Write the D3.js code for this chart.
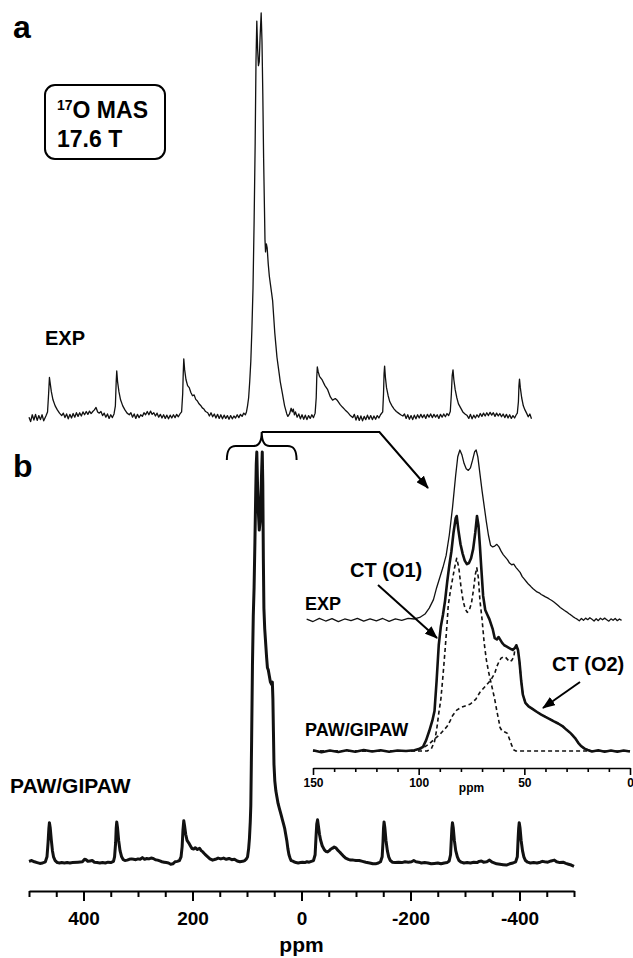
<!DOCTYPE html>
<html>
<head>
<meta charset="utf-8">
<script src="https://cdn.jsdelivr.net/npm/d3@7"></script>
<style>
  body { margin: 0; background: #fff; }
  svg { display: block; font-family: 'Liberation Sans', Arial, sans-serif; font-weight: bold; }
</style>
</head>
<body>
<div id="chart"></div>
<script>
"use strict";

const mainTicks = [400, 200, 0, -200, -400];
const insetTicks = [150, 100, 50, 0];

// [ppm, intensity in % of the tallest point of the trace]
const expMain = [
  [500, 0.2], [497, -0.9], [494, 0.8], [491, -0.5], [488, 0.9], [485, -0.6], [482, 0.6], [479, -0.4], [476, 0.8], [473, -0.7], [469, 0.5],
  [466, 1.5], [464, 6], [462.5, 10], [461, 8.5], [459, 6.5], [456, 4.5], [452, 3], [448, 2], [444, 1.2], [440, 0.6],
  [437, 1.2], [434, 0.1], [431, 1.0], [428, -0.2], [425, 0.9], [422, 0.0], [419, 1.1], [416, 0.2], [413, 1.3], [410, 0.4],
  [407, 1.3], [404, 0.5], [401, 1.5], [398, 0.8], [395, 1.6], [392, 0.9], [389, 1.7], [386, 1.1], [383, 1.6], [380, 2.0],
  [377, 2.6], [374, 1.5], [371, 1.2], [368, 1.6], [365, 0.6], [362, 1.2], [359, 0.2], [356, 1.0], [353, -0.1], [350, 0.8],
  [347, 0.1], [344, 1.0],
  [341.5, 3], [340, 9], [339, 11.6], [337.5, 9], [335, 6.5], [332, 4.5], [328, 3], [324, 2], [320, 1.2], [316, 0.8],
  [313, 1.3], [310, 0.2], [307, 1.0], [304, -0.1], [301, 0.9], [298, 0.1], [295, 0.8], [292, 0.4], [289, 1.3], [286, 0.8],
  [283, 1.6], [280, 0.8], [277, 1.7], [274, 0.9], [271, 1.3], [268, 0.5], [265, 1.2], [262, 0.2], [259, 0.9], [256, 0.0],
  [253, 0.8], [250, -0.1], [247, 0.7], [244, -0.2], [241, 0.7], [238, 0.0], [235, 0.8], [232, 0.1], [229, 0.9], [226, 0.3],
  [223, 1.0], [220, 1.5],
  [218, 6], [217, 11], [216, 14.6], [214.5, 12], [212, 9.5], [209, 8], [206, 7.5], [203, 6.3], [200, 5.5], [197, 5.7],
  [194, 4.6], [191, 4.2], [188, 3.5], [185, 3.1], [182, 2.5], [179, 2.2], [176, 1.6], [172, 1.3], [169, 0.5], [166, 1.3],
  [163, 0.3], [160, 1.0], [157, 0.0], [154, 0.9], [151, -0.1], [148, 0.8], [145, -0.2], [142, 0.7], [139, -0.1], [136, 0.6],
  [133, -0.3], [130, 0.6], [127, -0.2], [124, 0.5], [121, 0.0], [118, 0.8], [115, 0.1], [112, 0.9], [109, 0.4], [106, 1.2],
  [103, 0.8],
  [101, 1.5], [99, 3], [97, 5], [95, 9], [93, 14], [91, 22], [89, 32], [87, 48], [85, 68], [83.5, 88], [82, 98],
  [80.5, 91], [79, 87], [77.5, 88], [76, 94], [74, 100], [72.5, 93], [71, 80], [69.5, 64], [68, 52], [67, 44], [66, 41],
  [64.5, 43], [63, 42], [61, 38], [59, 35], [57, 33], [55, 31], [53, 29], [51, 25], [49, 21], [47, 18], [45, 15],
  [43, 13], [41, 11], [39, 9], [37, 7.5], [35, 6], [33, 4.5], [31, 3], [29, 2], [27, 1], [25, 0.4],
  [22, 1.0], [19, 2.4], [17, 1.5], [15, 2.2], [13, 0.8], [11, 1.5], [8, 0.2], [5, 1.0], [2, -0.2], [-1, 0.8], [-4, -0.3],
  [-7, 0.7], [-10, -0.4], [-13, 0.6], [-16, -0.1], [-19, 0.8], [-22, 0.1], [-25, 1.2],
  [-27, 5], [-28, 10], [-29, 12.6], [-30.5, 11.5], [-33, 10.3], [-38, 9.4], [-43, 8], [-48, 7], [-53, 5.2], [-57, 4.4],
  [-62, 4.8], [-66, 4.3], [-71, 3.3], [-75, 2.7], [-80, 2.0], [-84, 1.5], [-89, 0.7], [-94, 0.1],
  [-97, 0.9], [-100, -0.5], [-103, 0.6], [-106, -0.6], [-109, 0.5], [-112, -0.7], [-115, 0.4], [-118, -0.4], [-121, 0.7],
  [-124, -0.3], [-127, 0.6], [-130, -0.4], [-133, 0.5], [-136, -0.3], [-139, 0.6], [-142, 0.0], [-145, 0.8], [-149, 1.5],
  [-150.5, 6], [-151.5, 11], [-152.5, 12.8], [-154, 10], [-156, 7.5], [-159, 5.5], [-162, 4], [-166, 3], [-170, 2.2],
  [-174, 1.6], [-178, 1.2], [-182, 0.8], [-186, 0.5],
  [-189, 1.0], [-192, -0.1], [-195, 0.8], [-198, -0.3], [-201, 0.6], [-204, -0.4], [-207, 0.7], [-210, -0.2], [-213, 0.8],
  [-216, 0.0], [-219, 0.9], [-222, 0.1], [-225, 0.8], [-228, -0.1], [-231, 0.9], [-234, 0.2], [-237, 1.0], [-240, 0.1],
  [-243, 0.9], [-246, 0.2], [-249, 0.8], [-252, -0.1], [-255, 0.9], [-258, 0.2], [-261, 1.0], [-264, 0.3], [-267, 1.1],
  [-270, 0.6], [-273, 1.6],
  [-275, 6], [-276.5, 10.5], [-278, 11.9], [-279.5, 9.5], [-282, 7], [-285, 5], [-288, 3.5], [-292, 2.5], [-296, 1.5],
  [-300, 1.0], [-304, 0.6],
  [-307, -0.1], [-310, 0.9], [-313, -0.2], [-316, 0.7], [-319, 0.0], [-322, 0.8], [-325, 0.2], [-328, 1.1], [-331, 0.4],
  [-334, 1.2], [-337, 0.5], [-340, 1.3], [-343, 0.6], [-346, 1.4], [-349, 0.7], [-352, 1.3], [-355, 0.4], [-358, 1.2],
  [-361, 0.5], [-364, 1.1], [-367, 0.3], [-370, 1.0], [-373, 0.1], [-376, 0.9], [-379, 0.0], [-382, 0.8], [-385, -0.1],
  [-388, 0.6], [-391, 0.0], [-394, 0.8], [-396, 1.2],
  [-398, 4], [-399, 8], [-400, 9.6], [-401.5, 7.5], [-404, 5], [-407, 3], [-410, 2], [-413, 1.2], [-416, 0.3],
  [-419, 1.0], [-422, -0.2]
];

const pawMain = [
  [500, 0.4], [495, 0.6], [490, 0.3], [485, 0.1], [480, -0.1], [475, 0.0], [470, 0.3],
  [467, 1.5], [465, 5], [463.5, 8.5], [462.5, 9.8], [461, 8.5], [459, 5.5], [457, 3], [455, 1.5], [452, 0.6], [448, 0.1],
  [444, 0.0], [440, 0.1], [435, 0.0], [430, 0.1], [425, 0.0], [420, 0.1], [410, 0.2], [402, 0.3], [398, 0.9], [395, 0.8],
  [392, 0.4], [388, 0.5], [384, 0.6], [380, 0.2], [375, 0.1], [370, 0.0], [365, 0.1], [360, 0.0], [355, 0.2], [350, 0.1],
  [345, 0.4],
  [343, 1.5], [341, 5], [340, 8.5], [339, 10], [337.5, 8.5], [335.5, 5.5], [333, 3], [330, 1.5], [327, 0.8], [324, 0.6],
  [320, 0.7], [316, 0.9], [312, 1.0], [308, 0.9], [304, 0.8], [300, 1.0], [296, 0.9], [292, 1.3], [288, 0.9], [284, 1.1],
  [280, 1.0], [276, 1.2], [272, 1.1], [268, 0.8], [264, 0.7], [260, 0.5], [256, 0.3], [252, 0.2], [248, 0.1], [244, 0.0],
  [240, -0.3], [236, -0.2], [232, 0.3], [228, 0.4], [224, 0.6], [221, 1.5],
  [219, 4], [217.5, 8], [216, 10.3], [214.5, 9], [212.5, 7], [210, 5.5], [207, 4.9], [204, 4.2], [201, 3.5], [198, 3.4],
  [195, 3.7], [191, 3.3], [187, 3.6], [184, 3.0], [181, 2.7], [177, 2.1], [172, 1.5], [168, 1.0], [163, 0.7], [158, 0.9],
  [153, 1.2], [148, 1.0], [143, 1.2], [138, 0.9], [133, 1.1], [128, 0.8], [123, 0.9], [118, 0.5], [113, 0.3], [108, 0.4],
  [104, 0.6], [101, 1.0],
  [99, 1.5], [97, 3.5], [95.5, 6], [94, 10], [93, 14], [91.5, 30], [90, 48], [88.5, 60], [87, 67], [85.5, 78], [84, 90],
  [83, 97], [82, 100], [80.5, 91], [79, 85], [77.5, 81], [76, 83], [74.5, 89], [73, 96], [72, 100], [71, 92], [70, 74],
  [69, 62], [67.5, 57], [66, 54], [64, 50], [62.5, 47.5], [61, 47], [59, 45.5], [57, 44], [55, 43.5], [53.5, 44],
  [52.5, 40], [51.5, 32], [50.5, 24], [49, 20], [47, 17.5], [45, 16], [43, 14.5], [41, 13.5], [39, 12.5], [37, 11.5],
  [35, 10.5], [33, 9.5], [31, 8.5], [29, 7], [27, 5.5], [25, 3.5], [23, 2], [21, 1.2], [19, 0.6],
  [17, 0.5], [14, 0.3], [10, 0.1], [6, 0.0], [2, 0.1], [-2, 0.2], [-6, 0.1], [-10, 0.3], [-14, 0.2], [-18, 0.4], [-22, 0.6],
  [-25, 2], [-26.5, 6], [-28, 9.5], [-29.5, 10.5], [-31, 9], [-33, 7], [-35, 5.6], [-38, 4.2], [-42, 3.2], [-45, 2.8],
  [-48, 2.7], [-51, 3.0], [-54, 3.4], [-57, 3.6], [-60, 3.9], [-63, 3.7], [-66, 3.2], [-69, 2.8], [-72, 2.4], [-76, 1.8],
  [-81, 1.2], [-86, 0.9], [-90, 0.7], [-95, 0.7], [-100, 0.6], [-106, 0.6], [-112, 0.4], [-118, 0.2], [-125, 0.0],
  [-131, -0.2], [-136, -0.2], [-141, 0.0], [-145, 0.3], [-148, 1.5],
  [-149.5, 5], [-150.5, 8.5], [-151.5, 10], [-153, 8.5], [-155, 5.5], [-157.5, 3], [-160, 1.5], [-163, 0.6], [-167, 0.2],
  [-172, 0.1], [-178, 0.2], [-184, 0.1], [-190, 0.3], [-196, 0.2], [-202, 0.3], [-206, 0.6], [-210, 0.3], [-215, 0.2],
  [-220, 0.0], [-226, 0.1], [-232, 0.0], [-238, -0.2], [-244, -0.1], [-250, 0.0], [-256, -0.2], [-262, 0.0], [-267, 0.1],
  [-271, 0.5], [-273.5, 2],
  [-275, 6], [-276, 8.5], [-277, 9.8], [-278.5, 8.5], [-280.5, 5.5], [-283, 3], [-286, 1.5], [-289, 0.6], [-293, 0.2],
  [-298, 0.0], [-304, 0.1], [-310, 0.0], [-316, 0.2], [-322, 0.1], [-326, 0.4], [-330, 0.5], [-334, 0.2], [-340, 0.3],
  [-345, 0.7], [-350, 0.2], [-358, -0.2], [-364, -0.3], [-370, -0.4], [-376, -0.5], [-382, -0.2], [-388, 0.0],
  [-393, 0.3], [-396, 1.5],
  [-397.5, 6], [-398.5, 8.5], [-399.5, 9.8], [-401, 8.5], [-403, 5.5], [-405.5, 3], [-408, 1.5], [-411, 0.6], [-415, 0.2],
  [-420, 0.0], [-426, 0.1], [-432, 0.0], [-438, 0.2], [-442, 0.4], [-446, 0.3], [-452, 0.2], [-458, 0.5], [-464, 0.7],
  [-468, 0.3], [-474, 0.1], [-480, 0.2], [-485, -0.1], [-490, -0.3], [-495, -0.5], [-500, -0.8]
];

const expInset = [
  [153, 0.5], [150, -0.9], [147, 1.0], [144, -0.6], [141, 0.8], [138, -1.0], [135, 0.6], [132, -0.4], [129, 1.0],
  [126, -0.7], [123, 0.7], [120, -0.5], [117, 0.9], [114, -0.8], [111, 0.6], [108, -0.2], [105, 1.0], [102, 0.6],
  [99.5, 1.5], [97, 3.5], [95, 7], [93, 12], [91.5, 19], [90, 25], [88.5, 31], [87, 38], [85.5, 50], [84, 66],
  [82.5, 85], [81.5, 96], [80.5, 100], [79.5, 97], [78.5, 92], [77.5, 89], [76.5, 88], [75.5, 89.5], [74.5, 94],
  [73.5, 99], [72.8, 100], [72, 96], [71, 86], [70, 76], [69, 67], [68, 58], [67, 50], [66, 44], [65, 43], [64, 43.5],
  [63, 44.5], [62, 43], [61, 40.5], [60, 38.5], [59, 37], [58, 35.5], [57, 33.5], [56, 32.5], [55, 32.8], [54, 31],
  [53, 29.5], [52, 28], [51, 25.5], [50, 24], [49, 22.5], [48, 21], [47, 19.8], [46, 18.5], [45, 17.5], [44, 16.5],
  [43, 16], [42, 15], [41, 14.3], [40, 13.6], [39, 13], [38, 12.2], [37, 11.5], [36, 10.6], [35, 9.6], [34, 8.5],
  [33, 7.4], [32, 6.5], [31, 5.6], [30, 4.8], [29, 3.8], [28, 3.0], [27, 2.0], [26, 1.2], [25, 0.5], [24, -0.5],
  [23, 0.9], [22, -0.2], [21, 1.1], [20, 0.2], [19, 1.3], [18, 0.4], [17, -0.6], [16, 0.7], [15, -0.4], [14, 1.0],
  [13, 0.1], [12, 1.1], [11, 0.2], [10, -0.7], [9, 0.7], [8, -0.2], [7, 0.9], [6, -0.4], [5, 0.6], [4, -0.2]
];

const pawInset = [
  [150, 0.3], [146, -0.5], [142, 0.2], [138, -0.4], [134, 0.3], [130, -0.3], [126, 0.4], [122, -0.2], [118, 0.3],
  [114, -0.3], [110, 0.2], [106, 0.0], [102, 0.3], [100, 0.8], [98, 1.7], [96.5, 4.5], [95, 8.5], [93.5, 13],
  [92.5, 17], [91.5, 30], [90.5, 45], [89.5, 53], [88.5, 58], [87.5, 64], [86.5, 72], [85.5, 79], [84.5, 85],
  [83.5, 93], [82.5, 99], [82, 100], [81.2, 94], [80.2, 88], [79.2, 84], [78.2, 81], [77.2, 79.5], [76.2, 80],
  [75.2, 82], [74.2, 86], [73.2, 93], [72.4, 100], [71.7, 96], [71, 87], [70.3, 77], [69.5, 66], [68.5, 60],
  [67.5, 58], [66.5, 56], [65, 52], [64, 48], [63, 47.5], [62.2, 48.5], [61.5, 47.5], [60.5, 46], [59.5, 45],
  [58.5, 44.5], [57.5, 44], [56.5, 43.5], [55.5, 43], [54.5, 43.8], [53.8, 45], [53, 43], [52.3, 38], [51.5, 30],
  [50.7, 24], [49.5, 20.5], [48, 19], [46, 17.8], [44, 16.6], [42, 15.5], [40, 14.5], [38, 13.6], [36, 12.6],
  [34, 11.7], [32, 10.6], [30, 9], [28, 7.5], [26, 5.5], [24.5, 3.5], [23, 2.0], [21.5, 1.0], [20, 0.4], [18, -0.2],
  [15, 0.3], [12, -0.3], [9, 0.2], [6, -0.3], [3, 0.2], [0, -0.2]
];

const o1Inset = [
  [150, 0], [120, 0], [96, 0], [94, 1], [92.5, 4], [91.5, 9], [90.5, 16], [89.5, 22], [88.5, 32], [87.5, 43],
  [86.5, 55], [86, 62], [85, 68], [84, 73], [83, 78], [82, 82], [81, 78], [80, 70], [79, 64], [78, 60.5], [77, 59],
  [76, 60], [75, 63], [74, 69], [73.2, 75], [72.5, 78], [71.8, 74], [71, 64], [70, 56], [69, 46], [68, 39], [67, 34],
  [66, 30], [65, 26], [64, 22], [63, 17], [62, 12.5], [61.5, 10], [60.5, 8.5], [59, 8], [58, 7.5], [57, 5], [56, 2.5],
  [55, 0.5], [54, 0], [30, 0], [0, 0]
];

const o2Inset = [
  [150, 0], [130, 0], [115, 0], [105, 0], [101, 0.3], [98, 1.3], [95, 3], [93, 4.7], [90, 7], [88, 9], [86.5, 10.5],
  [85, 13], [84, 15], [82, 17.4], [80, 18.5], [78, 19.2], [75.5, 20], [73, 22], [71, 25], [68.5, 27.5], [66, 30],
  [64, 33], [63, 36], [62, 38], [61, 39.5], [60, 40], [59, 40], [58, 39], [57, 38], [56, 38.5], [55, 40], [54.5, 43],
  [53.8, 45], [53, 43], [52.3, 38], [51.5, 30], [50.7, 24], [49.5, 20.5], [48, 19], [46, 17.8], [44, 16.6], [42, 15.5],
  [40, 14.5], [38, 13.6], [36, 12.6], [34, 11.7], [32, 10.6], [30, 9], [28, 7.5], [26, 5.5], [24.5, 3.5], [23, 2.0],
  [21.5, 1.0], [20, 0.4], [18, 0], [10, 0], [0, 0]
];

const svg = d3.select('#chart').append('svg')
    .attr('width', 633).attr('height', 958);

const defs = svg.append('defs');
defs.append('marker')
    .attr('id', 'head')
    .attr('markerUnits', 'userSpaceOnUse')
    .attr('markerWidth', 13).attr('markerHeight', 10)
    .attr('refX', 12).attr('refY', 5)
    .attr('orient', 'auto')
    .append('path').attr('d', 'M0,0 L13,5 L0,10 Z').attr('fill', '#000');

// main scales
const x = d3.scaleLinear().domain([500, -500]).range([29, 574]);
const yExp = d3.scaleLinear().domain([0, 100]).range([418, 13]);
const yPaw = d3.scaleLinear().domain([0, 100]).range([863, 452]);

// inset scales
const xIn = d3.scaleLinear().domain([150, 0]).range([313, 630]);
const yInExp = d3.scaleLinear().domain([0, 100]).range([620, 450]);
const yInPaw = d3.scaleLinear().domain([0, 100]).range([751, 516]);

const lineOf = (xs, ys) => d3.line().x(d => xs(d[0])).y(d => ys(d[1]));

const trace = (data, gen, width, dash) => {
    const p = svg.append('path').datum(data)
        .attr('d', gen)
        .attr('fill', 'none')
        .attr('stroke', '#111')
        .attr('stroke-width', width)
        .attr('stroke-linejoin', 'round');
    if (dash) p.attr('stroke-dasharray', dash);
    return p;
};

trace(expMain, lineOf(x, yExp), 1.3);
trace(pawMain, lineOf(x, yPaw), 3);

trace(expInset, lineOf(xIn, yInExp), 1.3);
trace(o1Inset, lineOf(xIn, yInPaw), 1.6, '4,3');
trace(o2Inset, lineOf(xIn, yInPaw), 1.6, '4,3');
trace(pawInset, lineOf(xIn, yInPaw), 2.6);

// main axis
const mainAxis = d3.axisBottom(x)
    .tickValues(d3.range(500, -501, -50))
    .tickFormat(d => mainTicks.includes(d) ? String(d) : '')
    .tickSizeOuter(0);
const gMain = svg.append('g').attr('transform', 'translate(0,891)').call(mainAxis);
gMain.select('.domain').attr('stroke', '#000').attr('stroke-width', 2);
gMain.selectAll('.tick line')
     .attr('stroke', '#000').attr('stroke-width', 2)
     .attr('y2', d => mainTicks.includes(d) ? 10 : 6);
gMain.selectAll('.tick text')
     .attr('y', 34).attr('dy', null)
     .attr('fill', '#000')
     .style('font-family', "'Liberation Sans', Arial, sans-serif")
     .style('font-weight', 'bold').style('font-size', '19px');
svg.append('text').attr('x', x(0)).attr('y', 952)
   .attr('text-anchor', 'middle').style('font-size', '21px').text('ppm');

// inset axis
const insetAxis = d3.axisBottom(xIn)
    .tickValues(d3.range(150, -1, -10))
    .tickFormat(d => insetTicks.includes(d) ? String(d) : '')
    .tickSizeOuter(0);
const gIn = svg.append('g').attr('transform', 'translate(0,768)').call(insetAxis);
gIn.select('.domain').attr('stroke', '#000').attr('stroke-width', 1.6);
gIn.selectAll('.tick line')
   .attr('stroke', '#000').attr('stroke-width', 1.6)
   .attr('y2', d => insetTicks.includes(d) ? 7 : 4);
gIn.selectAll('.tick text')
   .attr('y', 19).attr('dy', null)
   .attr('fill', '#000')
   .style('font-family', "'Liberation Sans', Arial, sans-serif")
   .style('font-weight', 'bold').style('font-size', '12px');
svg.append('text').attr('x', xIn(75)).attr('y', 792)
   .attr('text-anchor', 'middle').style('font-size', '12px').text('ppm');

// panel letters and labels
svg.append('text').attr('x', 13).attr('y', 38).style('font-size', '32px').text('a');
svg.append('text').attr('x', 13).attr('y', 477).style('font-size', '32px').text('b');

svg.append('rect')
   .attr('x', 45).attr('y', 85).attr('width', 120).attr('height', 74).attr('rx', 10)
   .attr('fill', 'none').attr('stroke', '#000').attr('stroke-width', 2);
const t1 = svg.append('text').attr('x', 57).attr('y', 118).style('font-size', '23px');
t1.append('tspan').style('font-size', '14px').attr('dy', -8).text('17');
t1.append('tspan').attr('dy', 8).text('O MAS');
svg.append('text').attr('x', 57).attr('y', 147).style('font-size', '23px').text('17.6 T');

svg.append('text').attr('x', 45).attr('y', 345).style('font-size', '20px').text('EXP');
svg.append('text').attr('x', 10).attr('y', 793).style('font-size', '21px').text('PAW/GIPAW');

svg.append('text').attr('x', 305).attr('y', 610).style('font-size', '18px').text('EXP');
svg.append('text').attr('x', 305).attr('y', 736).style('font-size', '18px').text('PAW/GIPAW');
svg.append('text').attr('x', 350).attr('y', 577).style('font-size', '20px').text('CT (O1)');
svg.append('text').attr('x', 552).attr('y', 671).style('font-size', '20px').text('CT (O2)');

// brace over the central band and the arrow to the inset
const bl = x(137), bc = x(73), br = x(9);
svg.append('path')
   .attr('d', `M${bl},460 C${bl},451 ${bl + 2},446 ${bl + 9},446 L${bc - 8},446 C${bc - 3},446 ${bc},441 ${bc},432
              C${bc},441 ${bc + 3},446 ${bc + 8},446 L${br - 9},446 C${br - 2},446 ${br},451 ${br},460`)
   .attr('fill', 'none').attr('stroke', '#000').attr('stroke-width', 2);
svg.append('path')
   .attr('d', `M${bc},432 L${x(-143)},432 L428,488`)
   .attr('fill', 'none').attr('stroke', '#000').attr('stroke-width', 2)
   .attr('marker-end', 'url(#head)');

svg.append('line').attr('x1', 378).attr('y1', 585).attr('x2', 437).attr('y2', 638)
   .attr('stroke', '#000').attr('stroke-width', 2).attr('marker-end', 'url(#head)');
svg.append('line').attr('x1', 580).attr('y1', 682).attr('x2', 543).attr('y2', 708)
   .attr('stroke', '#000').attr('stroke-width', 2).attr('marker-end', 'url(#head)');
</script>
</body>
</html>
